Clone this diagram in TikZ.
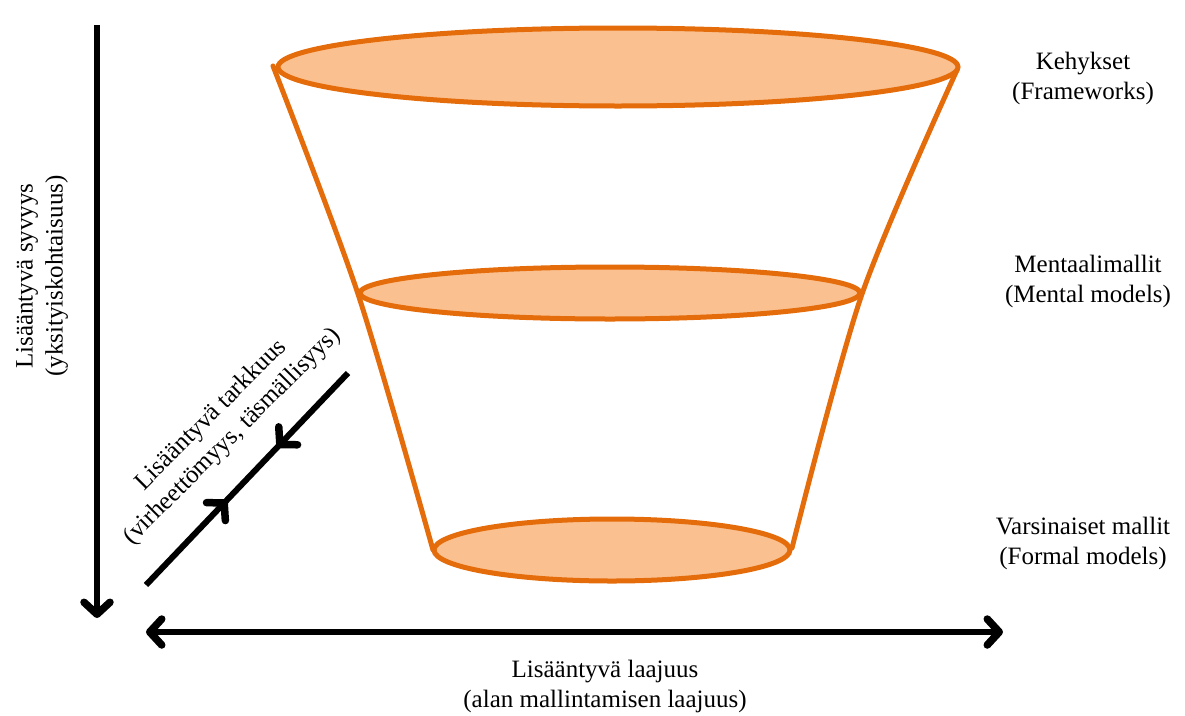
\documentclass[tikz,border=0pt]{standalone}
\usepackage{fontspec}
\setmainfont{Liberation Serif}
\usetikzlibrary{arrows.meta,shapes.geometric,decorations.markings}
\definecolor{funnelline}{RGB}{228,108,10}
\definecolor{funnelfill}{RGB}{250,192,144}
\tikzset{
  level/.style={ellipse, draw=funnelline, fill=funnelfill, line width=5pt, inner sep=0pt},
  side/.style={draw=funnelline, line width=5pt, line cap=round},
  barb/.tip={Straight Barb[length=12pt, width=26pt, line width=7.5pt, line cap=round, line join=round]},
  axis/.style={line width=6pt, black},
  lbl/.style={align=center, font=\fontsize{25}{30}\selectfont, inner sep=0pt}
}
\begin{document}
\begin{tikzpicture}[x=1pt, y=-1pt]
\useasboundingbox (0,0) rectangle (1185,715);
% funnel side coordinates
\coordinate (l1) at (273,66);
\coordinate (l2) at (358,294);
\coordinate (l3) at (433,550);
\coordinate (r1) at (957,70);
\coordinate (r2) at (862,294);
\coordinate (r3) at (792,548);
\draw[side] plot[smooth, tension=0.5] coordinates {(l1) (l2) (l3)};
\draw[side] plot[smooth, tension=0.5] coordinates {(r1) (r2) (r3)};
% levels
\node[level, minimum width=680pt, minimum height=78pt] (top) at (618,67) {};
\node[level, minimum width=500pt, minimum height=52pt] (mid) at (610,293) {};
\node[level, minimum width=356pt, minimum height=62pt] (bot) at (612,550) {};
% labels
\node[lbl] (ltop) at (1083,78) {Kehykset\\(Frameworks)};
\node[lbl] (lmid) at (1088,281) {Mentaalimallit\\(Mental models)};
\node[lbl] (lbot) at (1083,543) {Varsinaiset mallit\\(Formal models)};
\node[lbl] (lx) at (605,686) {Lisääntyvä laajuus\\(alan mallintamisen laajuus)};
\node[lbl, rotate=90] (ly) at (42,276) {Lisääntyvä syvyys\\(yksityiskohtaisuus)};
\node[lbl, rotate=45] (ld) at (222,426) {Lisääntyvä tarkkuus\\(virheettömyys, täsmällisyys)};
% axes
\coordinate (ya) at (97,25);
\coordinate (yb) at (97,618);
\draw[axis, -{barb}] (ya) -- (yb);
\coordinate (xa) at (146,632);
\coordinate (xb) at (1003,632);
\draw[axis, {barb}-{barb}] (xa) -- (xb);
\coordinate (da) at (146,585);
\coordinate (db) at (348,373);
\draw[axis, postaction={decorate}, decoration={markings,
   mark=at position 0.40 with {\arrow{barb}},
   mark=at position 0.65 with {\arrowreversed{barb}}}] (da) -- (db);
\end{tikzpicture}
\end{document}
